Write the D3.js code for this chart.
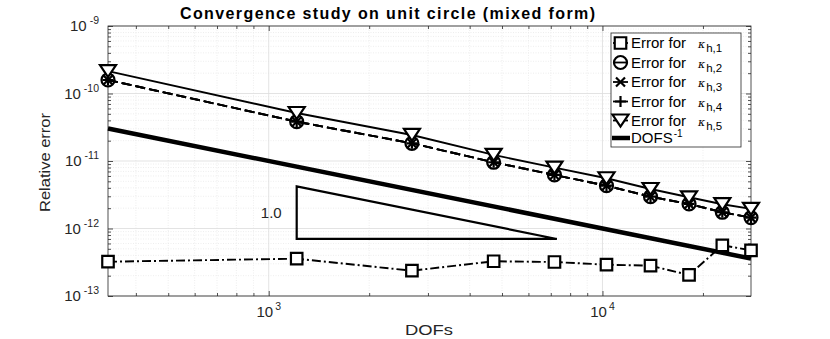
<!DOCTYPE html>
<html>
<head>
<meta charset="utf-8">
<script src="https://cdn.jsdelivr.net/npm/d3@7"></script>
<style>
  body { margin: 0; background: #fff; }
  svg { display: block; font-family: "Liberation Sans", Arial, Helvetica, sans-serif; }
</style>
</head>
<body>
<svg id="chart" width="830" height="339"></svg>
<script>
// datos
const dofs = [330, 1213, 2686, 4720, 7180, 10280, 13930, 18170, 22860, 27860];
const errK1 = [3.22e-13, 3.57e-13, 2.37e-13, 3.27e-13, 3.19e-13, 2.91e-13, 2.81e-13, 2.05e-13, 5.64e-13, 4.75e-13];
const errK2 = [1.585e-10, 3.82e-11, 1.83e-11, 9.58e-12, 6.21e-12, 4.31e-12, 2.96e-12, 2.31e-12, 1.74e-12, 1.45e-12];
const errK3 = [1.585e-10, 3.82e-11, 1.83e-11, 9.58e-12, 6.21e-12, 4.31e-12, 2.96e-12, 2.31e-12, 1.74e-12, 1.45e-12];
const errK4 = [1.585e-10, 3.82e-11, 1.83e-11, 9.58e-12, 6.21e-12, 4.31e-12, 2.96e-12, 2.31e-12, 1.74e-12, 1.45e-12];
const errK5 = [2.15e-10, 5.14e-11, 2.43e-11, 1.23e-11, 7.96e-12, 5.55e-12, 3.85e-12, 2.90e-12, 2.29e-12, 1.95e-12];
const refConst = 1e-8;               // DOFS^-1 escalada
const triX = [1213, 7300];           // triangulo de pendiente
const triY = [7e-13, 4.21e-12];
const triLabel = "1.0";
const xTicks = [1e3, 1e4];
const xTickExp = ["3", "4"];
const yTicks = [1e-13, 1e-12, 1e-11, 1e-10, 1e-9];
const yTickExp = ["-13", "-12", "-11", "-10", "-9"];
const legendNames = ["1", "2", "3", "4", "5"];

const svg = d3.select("#chart");
const margin = { top: 26, right: 79, bottom: 43, left: 108 };
const width = 830, height = 339;
const x0 = margin.left, x1 = width - margin.right;
const y0 = height - margin.bottom, y1 = margin.top;

const x = d3.scaleLog().domain([dofs[0], dofs[dofs.length - 1]]).range([x0, x1]);
const y = d3.scaleLog().domain([1e-13, 1e-9]).range([y0, y1]);

// ticks menores
const xMinor = [];
[100, 1000, 10000].forEach(b => { for (let k = 2; k <= 9; k++) { const v = b * k; if (v > x.domain()[0] && v < x.domain()[1]) xMinor.push(v); } });
const yMinor = [];
[1e-13, 1e-12, 1e-11, 1e-10].forEach(b => { for (let k = 2; k <= 9; k++) yMinor.push(b * k); });

// rejilla
const grid = svg.append("g");
grid.selectAll(".gxm").data(xMinor).join("line")
  .attr("x1", d => x(d)).attr("x2", d => x(d)).attr("y1", y0).attr("y2", y1)
  .attr("stroke", "#e6e6e6").attr("stroke-width", 0.7).attr("stroke-dasharray", "1,1.5");
grid.selectAll(".gym").data(yMinor).join("line")
  .attr("y1", d => y(d)).attr("y2", d => y(d)).attr("x1", x0).attr("x2", x1)
  .attr("stroke", "#e6e6e6").attr("stroke-width", 0.7).attr("stroke-dasharray", "1,1.5");
grid.selectAll(".gx").data(xTicks).join("line")
  .attr("x1", d => x(d)).attr("x2", d => x(d)).attr("y1", y0).attr("y2", y1)
  .attr("stroke", "#dcdcdc").attr("stroke-width", 0.8);
grid.selectAll(".gy").data(yTicks).join("line")
  .attr("y1", d => y(d)).attr("y2", d => y(d)).attr("x1", x0).attr("x2", x1)
  .attr("stroke", "#dcdcdc").attr("stroke-width", 0.8);

// ejes con ticks hacia dentro, en los cuatro lados
const axisColor = "#262626";
function styleAxis(g) {
  g.select(".domain").remove();
  g.selectAll("line").attr("stroke", axisColor).attr("stroke-width", 0.8);
  g.selectAll("text").remove();
}
svg.append("g").attr("transform", `translate(0,${y0})`).call(d3.axisBottom(x).tickValues(xTicks).tickSizeInner(-5).tickSizeOuter(0)).call(styleAxis);
svg.append("g").attr("transform", `translate(0,${y0})`).call(d3.axisBottom(x).tickValues(xMinor).tickSizeInner(-3).tickSizeOuter(0)).call(styleAxis);
svg.append("g").attr("transform", `translate(0,${y1})`).call(d3.axisTop(x).tickValues(xTicks).tickSizeInner(-5).tickSizeOuter(0)).call(styleAxis);
svg.append("g").attr("transform", `translate(0,${y1})`).call(d3.axisTop(x).tickValues(xMinor).tickSizeInner(-3).tickSizeOuter(0)).call(styleAxis);
svg.append("g").attr("transform", `translate(${x0},0)`).call(d3.axisLeft(y).tickValues(yTicks).tickSizeInner(-5).tickSizeOuter(0)).call(styleAxis);
svg.append("g").attr("transform", `translate(${x0},0)`).call(d3.axisLeft(y).tickValues(yMinor).tickSizeInner(-3).tickSizeOuter(0)).call(styleAxis);
svg.append("g").attr("transform", `translate(${x1},0)`).call(d3.axisRight(y).tickValues(yTicks).tickSizeInner(-5).tickSizeOuter(0)).call(styleAxis);
svg.append("g").attr("transform", `translate(${x1},0)`).call(d3.axisRight(y).tickValues(yMinor).tickSizeInner(-3).tickSizeOuter(0)).call(styleAxis);

svg.append("rect").attr("x", x0).attr("y", y1).attr("width", x1 - x0).attr("height", y0 - y1)
  .attr("fill", "none").attr("stroke", axisColor).attr("stroke-width", 0.8);

// etiquetas de ticks
const xl = svg.append("g").selectAll("text").data(xTicks).join("text")
  .attr("x", d => x(d)).attr("y", 317).attr("text-anchor", "middle")
  .attr("font-size", 15).attr("fill", axisColor);
xl.append("tspan").text("10");
xl.append("tspan").attr("dx", 2).attr("dy", -7).attr("font-size", 10.5).text((d, i) => xTickExp[i]);

const yl = svg.append("g").selectAll("text").data(yTicks).join("text")
  .attr("x", 99).attr("y", d => y(d) + 5).attr("text-anchor", "end")
  .attr("font-size", 15).attr("fill", axisColor);
yl.append("tspan").text("10");
yl.append("tspan").attr("dx", 3).attr("dy", -7).attr("font-size", 10.5).text((d, i) => yTickExp[i]);

// titulo y ejes
svg.append("text").attr("x", 180).attr("y", 19)
  .attr("font-size", 16).attr("font-weight", "bold")
  .attr("textLength", 415).attr("lengthAdjust", "spacing")
  .text("Convergence study on unit circle (mixed form)");
svg.append("text").attr("x", 405).attr("y", 335)
  .attr("font-size", 15.5).attr("fill", axisColor)
  .attr("textLength", 48).attr("lengthAdjust", "spacingAndGlyphs").text("DOFs");
svg.append("text").attr("transform", `translate(50,${212}) rotate(-90)`)
  .attr("font-size", 15.5).attr("fill", axisColor)
  .attr("textLength", 99).attr("lengthAdjust", "spacingAndGlyphs").text("Relative error");

// marcadores
function markerPath(type, s) {
  const h = s / 2;
  switch (type) {
    case "square": return `M${-h},${-h}H${h}V${h}H${-h}Z`;
    case "circle": return `M${h},0A${h},${h} 0 1,1 ${-h},0A${h},${h} 0 1,1 ${h},0Z`;
    case "x": return `M${-h},${-h}L${h},${h}M${-h},${h}L${h},${-h}`;
    case "plus": return `M${-h},0H${h}M0,${-h}V${h}`;
    case "triangle": return `M${-h},${-h * 0.75}H${h}L0,${h * 0.75}Z`;
  }
}

const seriesList = [
  { name: legendNames[0], values: errK1, marker: "square", size: 11.5, fill: "#fff", dash: "9,3,2,3" },
  { name: legendNames[1], values: errK2, marker: "circle", size: 13, fill: "none", dash: "10,4" },
  { name: legendNames[2], values: errK3, marker: "x", size: 9, fill: "none", dash: "10,4" },
  { name: legendNames[3], values: errK4, marker: "plus", size: 11, fill: "none", dash: "10,4" },
  { name: legendNames[4], values: errK5, marker: "triangle", size: 16, fill: "#fff", dash: null }
];

// recta de referencia DOFS^-1
const refLine = d3.line().x(d => x(d)).y(d => y(refConst / d));
svg.append("path").datum([dofs[0], dofs[dofs.length - 1]]).attr("d", refLine)
  .attr("fill", "none").attr("stroke", "#000").attr("stroke-width", 4.5);

// triangulo de pendiente
const triPts = [[triX[0], triY[1]], [triX[0], triY[0]], [triX[1], triY[0]]];
svg.append("path").datum(triPts).attr("d", d3.line().x(d => x(d[0])).y(d => y(d[1])).curve(d3.curveLinearClosed))
  .attr("fill", "none").attr("stroke", "#000").attr("stroke-width", 2.2);
svg.append("text").attr("x", x(triX[0]) - 15).attr("y", y(Math.sqrt(triY[0] * triY[1])) + 5)
  .attr("text-anchor", "end").attr("font-size", 15).attr("fill", axisColor).text(triLabel);

const line = d3.line().x((d, i) => x(dofs[i])).y(d => y(d));
seriesList.forEach(s => {
  svg.append("path").datum(s.values).attr("d", line)
    .attr("fill", "none").attr("stroke", "#000").attr("stroke-width", 1.9)
    .attr("stroke-dasharray", s.dash);
});
seriesList.forEach(s => {
  svg.append("g").selectAll("path").data(s.values).join("path")
    .attr("transform", (d, i) => `translate(${x(dofs[i])},${y(d)})`)
    .attr("d", markerPath(s.marker, s.size))
    .attr("fill", s.fill).attr("stroke", "#000").attr("stroke-width", 2.2);
});

// leyenda
const lg = svg.append("g");
lg.append("rect").attr("x", 611).attr("y", 33).attr("width", 130).attr("height", 114)
  .attr("fill", "#fff").attr("stroke", axisColor).attr("stroke-width", 0.8);
const rowY = [43, 62.5, 82, 101.5, 120.5, 138];
seriesList.forEach((s, i) => {
  const g = lg.append("g").attr("transform", `translate(0,${rowY[i]})`);
  g.append("line").attr("x1", 613).attr("x2", 628).attr("stroke", "#000").attr("stroke-width", 1.8);
  g.append("path").attr("transform", "translate(620.5,0)")
    .attr("d", markerPath(s.marker, s.size)).attr("fill", s.marker === "square" || s.marker === "triangle" ? "#fff" : "none")
    .attr("stroke", "#000").attr("stroke-width", 2.2);
  const t = g.append("text").attr("x", 631).attr("y", 5).attr("font-size", 15).attr("fill", "#000");
  t.append("tspan").text("Error for");
  t.append("tspan").attr("x", 698).attr("font-family", "'DejaVu Serif', serif").attr("font-style", "italic").attr("font-size", 11).text("κ");
  t.append("tspan").attr("dx", 1).attr("dy", 4).attr("font-size", 11.5).text("h," + s.name);
});
const gRef = lg.append("g").attr("transform", `translate(0,${rowY[5]})`);
gRef.append("line").attr("x1", 612).attr("x2", 630).attr("stroke", "#000").attr("stroke-width", 4.5);
const tRef = gRef.append("text").attr("x", 631).attr("y", 5).attr("font-size", 15).attr("fill", "#000");
tRef.append("tspan").text("DOFS");
tRef.append("tspan").attr("dx", 1).attr("dy", -6).attr("font-size", 10).text("-1");
</script>
</body>
</html>
